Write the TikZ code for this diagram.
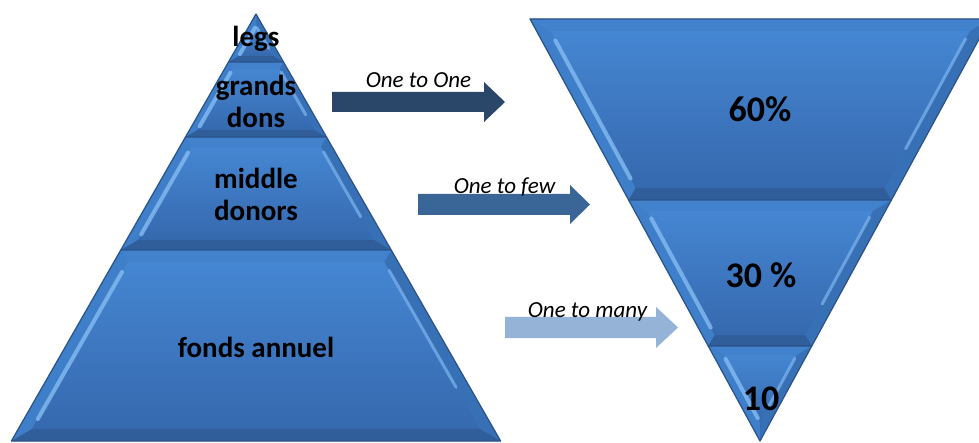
\documentclass[tikz,border=0pt]{standalone}
\usepackage{fontspec}
\setmainfont{Carlito}
\usetikzlibrary{calc}
\definecolor{faceT}{HTML}{4586D2}
\definecolor{faceB}{HTML}{3669AE}
\definecolor{outerC}{HTML}{3A74BC}
\definecolor{lbev}{HTML}{3F7EC8}
\definecolor{rbev}{HTML}{3870B6}
\definecolor{tbev}{HTML}{4282CC}
\definecolor{bbev}{HTML}{2F5E9B}
\definecolor{edgeC}{HTML}{2A5389}
\definecolor{hiL}{HTML}{84BCF2}
\definecolor{hiR}{HTML}{76AEE8}
\definecolor{arA}{HTML}{2A4669}
\definecolor{arB}{HTML}{3A6597}
\definecolor{arC}{HTML}{95B3D7}
\tikzset{
  lbl/.style={font=\bfseries\fontsize{29}{32}\selectfont, inner sep=0pt, align=center},
  pct/.style={font=\bfseries\fontsize{36}{40}\selectfont, inner sep=0pt},
  arlbl/.style={font=\itshape\fontsize{23}{26}\selectfont, inner sep=0pt},
}
% #1 yt, #2 yb, #3 xtl, #4 xtr, #5 xbl, #6 xbr, #7 bevel depth
\newcommand\bevlayer[7]{%
  \pgfmathsetmacro\sL{(#5-#3)/(#2-#1)}%
  \pgfmathsetmacro\sR{(#6-#4)/(#2-#1)}%
  \pgfmathsetmacro\hL{#7*sqrt(1+\sL*\sL)}%
  \pgfmathsetmacro\hR{#7*sqrt(1+\sR*\sR)}%
  \pgfmathsetmacro\ym{#1+(#3-#4+\hL+\hR)/(\sR-\sL)}%
  \pgfmathsetmacro\xm{#3+\sL*(\ym-#1)+\hL}%
  \pgfmathsetmacro\xtlI{#3+\sL*#7+\hL}%
  \pgfmathsetmacro\xtrI{#4+\sR*#7-\hR}%
  \pgfmathsetmacro\xblI{#5-\sL*#7+\hL}%
  \pgfmathsetmacro\xbrI{#6-\sR*#7-\hR}%
  \pgfmathsetmacro\wt{\xtrI-\xtlI}%
  \pgfmathsetmacro\wb{\xbrI-\xblI}%
  \pgfmathsetmacro\ytJ{ifthenelse(\wt>0,#1+#7,\ym)}%
  \pgfmathsetmacro\xtlJ{ifthenelse(\wt>0,\xtlI,\xm)}%
  \pgfmathsetmacro\xtrJ{ifthenelse(\wt>0,\xtrI,\xm)}%
  \pgfmathsetmacro\ybJ{ifthenelse(\wb>0,#2-#7,\ym)}%
  \pgfmathsetmacro\xblJ{ifthenelse(\wb>0,\xblI,\xm)}%
  \pgfmathsetmacro\xbrJ{ifthenelse(\wb>0,\xbrI,\xm)}%
  \fill[outerC] (#3,#1)--(#4,#1)--(#6,#2)--(#5,#2)--cycle;
  \fill[lbev] (#3,#1)--(#5,#2)--(\xblJ,\ybJ)--(\xtlJ,\ytJ)--cycle;
  \fill[rbev] (#4,#1)--(#6,#2)--(\xbrJ,\ybJ)--(\xtrJ,\ytJ)--cycle;
  \fill[tbev] (#3,#1)--(#4,#1)--(\xtrJ,\ytJ)--(\xtlJ,\ytJ)--cycle;
  \fill[bbev] (#5,#2)--(#6,#2)--(\xbrJ,\ybJ)--(\xblJ,\ybJ)--cycle;
  \shade[top color=faceT, bottom color=faceB] (\xtlJ,\ytJ)--(\xtrJ,\ytJ)--(\xbrJ,\ybJ)--(\xblJ,\ybJ)--cycle;
  \draw[hiL, line width=4pt, line cap=round, opacity=0.8]
    ($(\xtlJ,\ytJ)!0.06!(\xblJ,\ybJ)$) -- ($(\xtlJ,\ytJ)!0.94!(\xblJ,\ybJ)$);
  \draw[hiR, line width=3pt, line cap=round, opacity=0.8]
    ($(\xtrJ,\ytJ)!0.05!(\xbrJ,\ybJ)$) -- ($(\xtrJ,\ytJ)!0.75!(\xbrJ,\ybJ)$);
  \draw[edgeC, line width=1.2pt, line join=round] (#3,#1)--(#4,#1)--(#6,#2)--(#5,#2)--cycle;
}
\begin{document}
\begin{tikzpicture}[x=1pt,y=-1pt]
\useasboundingbox (0,0) rectangle (979,443);
\fill[white] (0,0) rectangle (979,443);
\clip (0,0) rectangle (979,443);

% ---- pyramid (left) ----
\bevlayer{14}{62}{256}{256}{228.5}{283.5}{6}
\bevlayer{62}{137}{228.5}{283.5}{185.5}{326.5}{7}
\bevlayer{137}{250}{185.5}{326.5}{120.8}{391.2}{10}
\bevlayer{250}{441}{120.8}{391.2}{11.4}{500.6}{12}

% ---- inverted pyramid (right) ----
\bevlayer{19}{200}{530}{990}{628.6}{891.4}{12}
\bevlayer{200}{346}{628.6}{891.4}{708.2}{811.8}{11}
\bevlayer{346}{441}{708.2}{811.8}{760}{760}{9}

% ---- labels ----
\node[lbl, anchor=base] (legs) at (256,47) {legs};
\node[lbl] (grands) at (256,101.5) {grands\\dons};
\node[lbl] (middle) at (256,194) {middle\\donors};
\node[lbl, anchor=base] (fonds) at (256,357) {fonds annuel};
\node[pct, anchor=base] (p60) at (760,122) {60\%};
\node[pct, anchor=base] (p30) at (761,288) {30 \%};
\node[pct, anchor=base] (p10) at (761,410) {10};

% ---- block arrows ----
\fill[arA] (332,92)--(484,92)--(484,82)--(505,102)--(484,122)--(484,112)--(332,112)--cycle;
\fill[arB] (418,194)--(570,194)--(570,185)--(590,204.5)--(570,224)--(570,215)--(418,215)--cycle;
\fill[arC] (505,317)--(656,317)--(656,307)--(678,327.5)--(656,348)--(656,338)--(505,338)--cycle;
\node[arlbl, anchor=base] (one) at (418.5,88) {One to One};
\node[arlbl, anchor=base] (few) at (504.5,194) {One to few};
\node[arlbl, anchor=base] (many) at (587.5,318) {One to many};
\end{tikzpicture}
\end{document}
